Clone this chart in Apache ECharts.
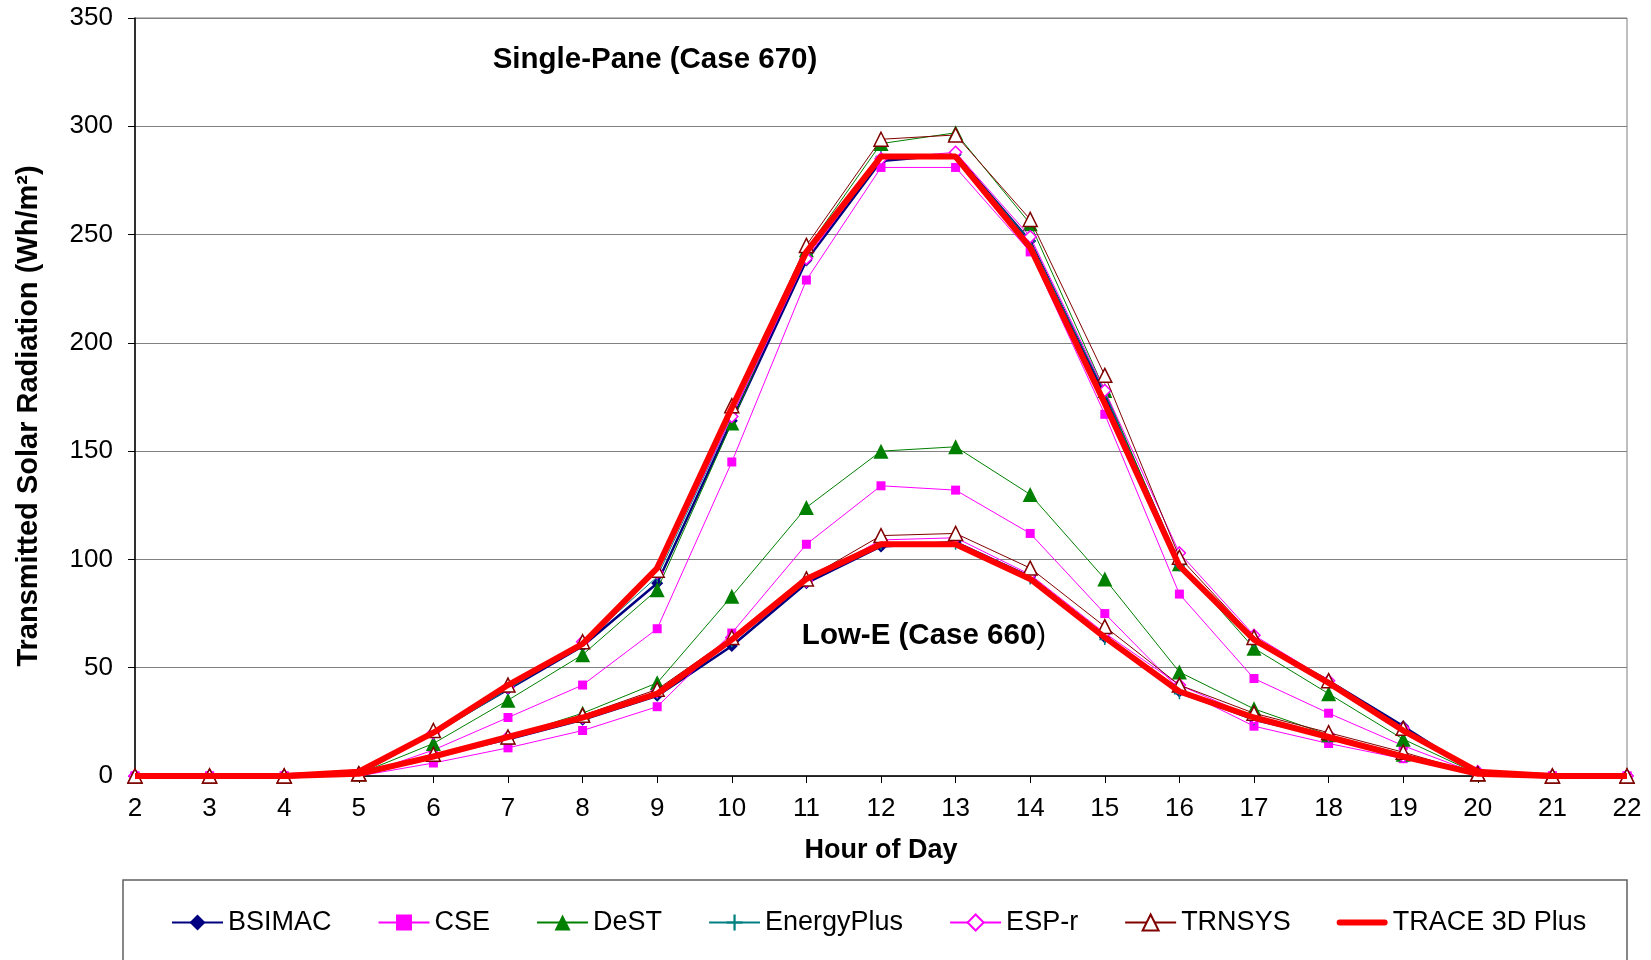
<!DOCTYPE html>
<html><head><meta charset="utf-8">
<script src="https://cdn.jsdelivr.net/npm/echarts@6/dist/echarts.min.js"></script>
<style>html,body{margin:0;padding:0;background:#fff}#c{width:1651px;height:960px}</style>
</head><body><div id="c"></div>
<script>
const hours = ['2','3','4','5','6','7','8','9','10','11','12','13','14','15','16','17','18','19','20','21','22'];
const yTicks = [0,50,100,150,200,250,300,350];
const names = ['BSIMAC','CSE','DeST','EnergyPlus','ESP-r','TRNSYS','TRACE 3D Plus'];

const bsimacSingle = [0,0,0,1,20,40,60,89,164,238,284,287,247,176,98,63,44,23,1,0,0];
const bsimacLow    = [0,0,0,1,9,17,26,37,60,89,106,108,92,64,39,26,18,9,1,0,0];
const cseSingle    = [0,0,0,0,12,27,42,68,145,229,281,281,242,167,84,45,29,14,1,0,0];
const cseLow       = [0,0,0,0,6,13,21,32,66,107,134,132,112,75,40,23,15,8,1,0,0];
const destSingle   = [0,0,0,1,15,35,56,86,163,243,292,297,255,178,98,59,38,17,1,0,0];
const destLow      = [0,0,0,1,10,18,29,43,83,124,150,152,130,91,48,31,19,10,1,0,0];
const eplusSingle  = [0,0,0,1,19,40,61,92,166,240,286,287,247,177,97,62,43,22,1,0,0];
const eplusLow     = [0,0,0,1,9,17,27,38,62,90,107,107,91,63,38,26,18,9,1,0,0];
const esprSingle   = [0,0,0,1,20,41,62,94,166,239,285,288,249,178,103,65,44,22,2,0,0];
const esprLow      = [0,0,0,1,9,18,27,39,64,90,109,110,93,66,42,27,19,9,1,0,0];
const trnsysSingle = [0,0,0,1,21,42,62,95,171,245,294,296,257,185,101,64,44,22,1,0,0];
const trnsysLow    = [0,0,0,1,10,18,28,40,64,91,111,112,96,69,42,29,20,11,1,0,0];
const traceSingle  = [0,0,0,2,20,42,61,96,170,242,286,286,244,172,97,63,43,21,2,0,0];
const traceLow     = [0,0,0,1,9,18,27,38,63,91,107,107,91,64,39,27,18,9,1,0,0];

const FONT = '"Liberation Sans", Arial, sans-serif';
const plusPath = 'path://M4.3,0h1.4v10h-1.4z M0,4.3h10v1.4h-10z';
const thickLineIcon = 'path://M0,0h0.05v0.05h-0.05z M50.95,19.95h0.05v0.05h-0.05z M3,7h45a3,3 0 0 1 0,6h-45a3,3 0 0 1 0,-6z';

const styles = {
  'BSIMAC':       {symbol:'diamond', symbolSize:12, lineStyle:{color:'#000080', width:2.5}, itemStyle:{color:'#000080', borderColor:'#000080', borderWidth:0}},
  'CSE':          {symbol:'rect', symbolSize:9, lineStyle:{color:'#ff00ff', width:1}, itemStyle:{color:'#ff00ff', borderColor:'#ff00ff', borderWidth:0}},
  'DeST':         {symbol:'triangle', symbolSize:15, lineStyle:{color:'#008000', width:1}, itemStyle:{color:'#008000', borderColor:'#008000', borderWidth:0}},
  'EnergyPlus':   {symbol:plusPath, symbolSize:11, lineStyle:{color:'#008080', width:1}, itemStyle:{color:'#008080', borderColor:'#008080', borderWidth:0}},
  'ESP-r':        {symbol:'diamond', symbolSize:12, lineStyle:{color:'#ff00ff', width:1}, itemStyle:{color:'#ffffff', borderColor:'#ff00ff', borderWidth:1.5}},
  'TRNSYS':       {symbol:'triangle', symbolSize:14, lineStyle:{color:'#800000', width:1}, itemStyle:{color:'#ffffff', borderColor:'#800000', borderWidth:1.5}},
  'TRACE 3D Plus':{symbol:'none', symbolSize:0, lineStyle:{color:'#ff0000', width:6}, itemStyle:{color:'#ff0000'}}
};

const seriesData = [
  ['BSIMAC', bsimacSingle], ['BSIMAC', bsimacLow],
  ['CSE', cseSingle], ['CSE', cseLow],
  ['DeST', destSingle], ['DeST', destLow],
  ['EnergyPlus', eplusSingle], ['EnergyPlus', eplusLow],
  ['ESP-r', esprSingle], ['ESP-r', esprLow],
  ['TRNSYS', trnsysSingle], ['TRNSYS', trnsysLow],
  ['TRACE 3D Plus', traceSingle], ['TRACE 3D Plus', traceLow]
];

const series = seriesData.map(([n, d], i) => {
  const s = styles[n];
  return {
    name: n, type: 'line', data: d,
    symbol: s.symbol, symbolSize: s.symbolSize, showSymbol: s.symbol !== 'none',
    lineStyle: s.lineStyle, itemStyle: s.itemStyle,
    z: n === 'TRACE 3D Plus' ? 10 : 2 + i * 0.1,
    animation: false, silent: true
  };
});

const legendData = names.map(n => n === 'TRACE 3D Plus' ? {name: n, icon: thickLineIcon, itemStyle: {color: '#ff0000'}} : {name: n});

const chart = echarts.init(document.getElementById('c'), null, {renderer: 'canvas'});
chart.setOption({
  backgroundColor: '#fff',
  animation: false,
  grid: {left: 135, right: 24, top: 18, bottom: 184, show: true, borderColor: '#808080', borderWidth: 1},
  xAxis: {
    type: 'category', data: hours, boundaryGap: false,
    name: 'Hour of Day', nameLocation: 'middle', nameGap: 61,
    nameTextStyle: {fontFamily: FONT, fontSize: 27, fontWeight: 'bold', color: '#000'},
    axisLine: {lineStyle: {color: '#000', width: 1.5}},
    axisTick: {show: true, length: 7, alignWithLabel: true, lineStyle: {color: '#000'}},
    axisLabel: {fontFamily: FONT, fontSize: 26, color: '#000', margin: 20},
    splitLine: {show: false}
  },
  yAxis: {
    type: 'value', min: yTicks[0], max: yTicks[yTicks.length - 1], interval: 50,
    axisLine: {show: true, lineStyle: {color: '#000', width: 1.5}},
    axisTick: {show: true, length: 7, lineStyle: {color: '#000'}},
    axisLabel: {fontFamily: FONT, fontSize: 26, color: '#000', margin: 22},
    splitLine: {show: true, lineStyle: {color: '#808080', width: 1}}
  },
  legend: {
    data: legendData, top: 904, left: 166, itemGap: 46, itemWidth: 51, itemHeight: 20,
    textStyle: {fontFamily: FONT, fontSize: 27, color: '#000'}
  },
  graphic: [
    {type: 'rect', shape: {x: 123, y: 880, width: 1504, height: 120}, style: {fill: 'none', stroke: '#606060', lineWidth: 1.5}, silent: true, z: -1},
    {type: 'text', x: 655, y: 60, style: {text: 'Single-Pane (Case 670)', font: 'bold 29.5px ' + FONT, fill: '#000', textAlign: 'center', textVerticalAlign: 'middle'}},
    {type: 'text', x: 924, y: 636, style: {
      text: '{b|Low-E (Case 660}{n|)}',
      rich: {b: {font: 'bold 29.5px ' + FONT, fill: '#000'}, n: {font: '29.5px ' + FONT, fill: '#000'}},
      textAlign: 'center', textVerticalAlign: 'middle'}},
    {type: 'text', x: 29, y: 416, rotation: Math.PI / 2, style: {text: 'Transmitted Solar Radiation (Wh/m²)', font: 'bold 29px ' + FONT, fill: '#000', textAlign: 'center', textVerticalAlign: 'middle'}}
  ],
  series: series
});
</script></body></html>
